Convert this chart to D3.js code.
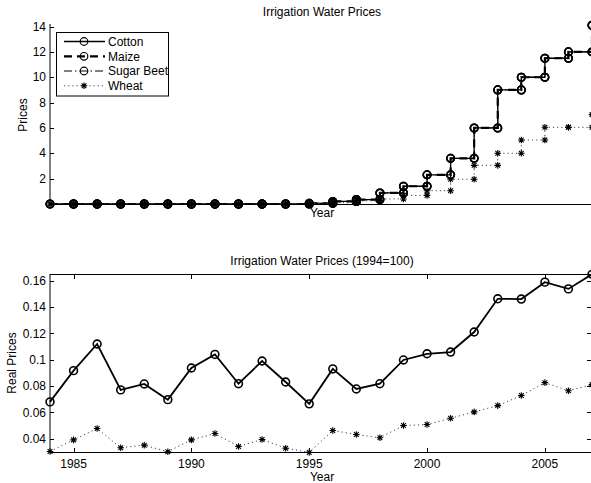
<!DOCTYPE html>
<html><head><meta charset="utf-8">
<script src="https://cdn.jsdelivr.net/npm/d3@7"></script>
<style>
body{margin:0;background:#fff;}
svg{display:block;font-family:"Liberation Sans",Arial,sans-serif;}
</style></head>
<body><svg id="c" width="591" height="483"></svg>
<script>
// ---- data ----
const years = d3.range(1984, 2008);
// nominal prices (step values per year)
const cotton     = [0,0,0,0,0,0,0,0,0,0,0,0.05,0.2,0.35,0.87,1.4,2.3,3.6,6,9,10,11.5,12,14.1];
const maize      = [0,0,0,0,0,0,0,0,0,0,0,0.05,0.2,0.35,0.87,1.4,2.3,3.6,6,9,10,11.5,12,14.1];
const sugarBeet  = [0,0,0,0,0,0,0,0,0,0,0,0.05,0.2,0.35,0.87,1.4,2.3,3.6,6,9,10,11.5,12,14.1];
const wheat      = [0,0,0,0,0,0,0,0,0,0,0,0.03,0.1,0.25,0.4,0.68,1.05,1.95,3.05,4,5.05,6.05,6.05,7.05];
// real prices (1994=100)
const cottonReal = [0.068,0.0917,0.1119,0.0771,0.0816,0.0697,0.0937,0.104,0.0818,0.099,0.0831,0.0665,0.093,0.0778,0.0818,0.0998,0.1045,0.1058,0.121,0.1462,0.146,0.1588,0.1537,0.1648];
const wheatReal  = [0.0304,0.0392,0.0478,0.0332,0.0352,0.0302,0.0392,0.044,0.0342,0.0395,0.0329,0.0297,0.0463,0.0433,0.0408,0.0501,0.0508,0.0556,0.0604,0.0652,0.0728,0.0826,0.0765,0.0811];
const seriesNames = ["Cotton","Maize","Sugar Beet","Wheat"];
const topTicks = [2,4,6,8,10,12,14];
const botYTicks = [0.04,0.06,0.08,0.1,0.12,0.14,0.16];
const botXTicks = [1985,1990,1995,2000,2005];

const svg = d3.select("#c");
const FS = 12;
const x = d3.scaleLinear().domain([1984,2007]).range([50,592]);

// marker helpers
function circles(g, pts, sx, sy, r, sw){
  g.selectAll(null).data(pts).join("circle")
    .attr("cx",d=>sx(d[0])).attr("cy",d=>sy(d[1])).attr("r",r)
    .attr("fill","none").attr("stroke","#000").attr("stroke-width",sw);
}
function stars(g, pts, sx, sy, s){
  const sel = g.selectAll(null).data(pts).join("path")
    .attr("d",d=>{const cx=sx(d[0]),cy=sy(d[1]),a=s*0.72;
      return `M${cx-s},${cy}L${cx+s},${cy}M${cx},${cy-s}L${cx},${cy+s}M${cx-a},${cy-a}L${cx+a},${cy+a}M${cx-a},${cy+a}L${cx+a},${cy-a}`;})
    .attr("stroke","#000").attr("stroke-width",1.1).attr("fill","none");
}
function stepPts(vals){
  const p=[[years[0],vals[0]]];
  for(let i=1;i<years.length;i++){p.push([years[i],vals[i-1]]);p.push([years[i],vals[i]]);}
  return p;
}

// ================= TOP CHART =================
const yT = d3.scaleLinear().domain([0,14.2]).range([204,24]);
const gT = svg.append("g");
const lineT = d3.line().x(d=>x(d[0])).y(d=>yT(d[1]));

const topSeries = [
  {name:"Cotton", vals:cotton, dash:null, w:1.3, color:"#000", marker:"o"},
  {name:"Maize", vals:maize, dash:"8,5", w:2.2, color:"#000", marker:"o"},
  {name:"Sugar Beet", vals:sugarBeet, dash:"8,3,1.5,3", w:1, color:"#000", marker:"o"},
  {name:"Wheat", vals:wheat, dash:"1.2,3", w:1, color:"#444", marker:"*"}
];
topSeries.forEach(s=>{
  const pts = stepPts(s.vals);
  gT.append("path").attr("d",lineT(pts)).attr("fill","none")
    .attr("stroke",s.color).attr("stroke-width",s.w)
    .attr("stroke-dasharray",s.dash);
  const mg = gT.append("g");
  if(s.marker==="o") circles(mg, pts, x, yT, 3.8, 1.5); else stars(mg, pts, x, yT, 3.3);
});

// axes top
gT.append("line").attr("x1",50).attr("x2",50).attr("y1",24).attr("y2",204.5).attr("stroke","#000");
gT.append("line").attr("x1",50).attr("x2",592).attr("y1",204.5).attr("y2",204.5).attr("stroke","#000");
topTicks.forEach(t=>{
  gT.append("line").attr("x1",50).attr("x2",54).attr("y1",Math.round(yT(t))+0.5).attr("y2",Math.round(yT(t))+0.5).attr("stroke","#000");
  gT.append("text").attr("x",46).attr("y",yT(t)+4.2).attr("text-anchor","end").attr("font-size",FS).text(t);
});
gT.append("text").attr("x",322).attr("y",15.5).attr("text-anchor","middle").attr("font-size",FS).text("Irrigation Water Prices");
gT.append("text").attr("x",322).attr("y",217).attr("text-anchor","middle").attr("font-size",FS).text("Year");
gT.append("text").attr("transform","translate(26.5,115) rotate(-90)").attr("text-anchor","middle").attr("font-size",FS).text("Prices");

// legend
const lg = svg.append("g");
lg.append("rect").attr("x",56.5).attr("y",32.5).attr("width",112).attr("height",63.5).attr("fill","#fff").attr("stroke","#000");
const legY = [41.5,56.3,71,85.8];
topSeries.forEach((s,i)=>{
  const cy = legY[i];
  lg.append("line").attr("x1",64).attr("x2",105).attr("y1",cy).attr("y2",cy)
    .attr("stroke",s.color).attr("stroke-width",s.w).attr("stroke-dasharray",s.dash);
  const mg = lg.append("g");
  const id = d3.scaleIdentity();
  if(s.marker==="o") circles(mg, [[84,cy]], id, id, 3.8, 1.2); else stars(mg, [[84,cy]], id, id, 3.3);
  lg.append("text").attr("x",108).attr("y",cy+4.3).attr("font-size",FS).text(s.name);
});
// clip legend text at border (Sugar Beet overlaps)
lg.append("line").attr("x1",168.5).attr("x2",168.5).attr("y1",32.5).attr("y2",96).attr("stroke","#000");

// ================= BOTTOM CHART =================
const yB = d3.scaleLinear().domain([0.03,0.165]).range([452,274]);
const gB = svg.append("g");
const lineB = d3.line().x((d,i)=>x(years[i])).y(d=>yB(d));
gB.append("path").attr("d",lineB(wheatReal)).attr("fill","none").attr("stroke","#444").attr("stroke-width",1).attr("stroke-dasharray","1.2,3");
gB.append("path").attr("d",lineB(cottonReal)).attr("fill","none").attr("stroke","#000").attr("stroke-width",1.8);
circles(gB.append("g"), cottonReal.map((v,i)=>[years[i],v]), x, yB, 3.9, 1.6);
stars(gB.append("g"), wheatReal.map((v,i)=>[years[i],v]), x, yB, 3.3);

// box
gB.append("rect").attr("x",50).attr("y",274.5).attr("width",542).attr("height",178).attr("fill","none").attr("stroke","#000");
botYTicks.forEach(t=>{
  const yy = Math.round(yB(t))+0.5;
  gB.append("line").attr("x1",50).attr("x2",54).attr("y1",yy).attr("y2",yy).attr("stroke","#000");
  gB.append("line").attr("x1",587).attr("x2",592).attr("y1",yy).attr("y2",yy).attr("stroke","#000");
  gB.append("text").attr("x",46).attr("y",yB(t)+4.2).attr("text-anchor","end").attr("font-size",FS).text(d3.format("")(t));
});
botXTicks.forEach(t=>{
  const xx = Math.round(x(t))+0.5;
  gB.append("line").attr("x1",xx).attr("x2",xx).attr("y1",452.5).attr("y2",448).attr("stroke","#000");
  gB.append("line").attr("x1",xx).attr("x2",xx).attr("y1",274.5).attr("y2",279).attr("stroke","#000");
  gB.append("text").attr("x",x(t)).attr("y",468).attr("text-anchor","middle").attr("font-size",FS).text(t);
});
gB.append("text").attr("x",322).attr("y",264.5).attr("text-anchor","middle").attr("font-size",FS).text("Irrigation Water Prices (1994=100)");
gB.append("text").attr("x",322).attr("y",481).attr("text-anchor","middle").attr("font-size",FS).text("Year");
gB.append("text").attr("transform","translate(15.5,363) rotate(-90)").attr("text-anchor","middle").attr("font-size",FS).text("Real Prices");
</script></body></html>
